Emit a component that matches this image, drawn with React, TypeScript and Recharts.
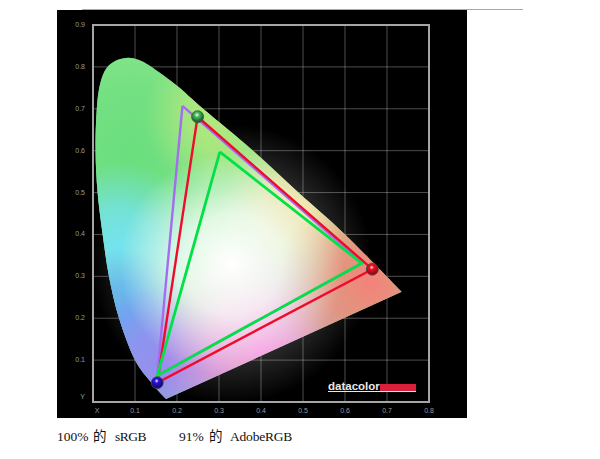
import { ScatterChart, Scatter, XAxis, YAxis, CartesianGrid, ReferenceArea } from 'recharts';

// values (CIE x, y)
const xTicks = [0, 0.1, 0.2, 0.3, 0.4, 0.5, 0.6, 0.7, 0.8];
const yTicks = [0, 0.1, 0.2, 0.3, 0.4, 0.5, 0.6, 0.7, 0.8, 0.9];

const locus = [
  { x: 0.174, y: 0.007 },
  { x: 0.14, y: 0.045 },
  { x: 0.1, y: 0.1 },
  { x: 0.062, y: 0.2 },
  { x: 0.038, y: 0.3 },
  { x: 0.023, y: 0.4 },
  { x: 0.011, y: 0.5 },
  { x: 0.006, y: 0.6 },
  { x: 0.009, y: 0.7 },
  { x: 0.017, y: 0.76 },
  { x: 0.032, y: 0.797 },
  { x: 0.056, y: 0.816 },
  { x: 0.084, y: 0.822 },
  { x: 0.108, y: 0.817 },
  { x: 0.136, y: 0.802 },
  { x: 0.2, y: 0.755 },
  { x: 0.262, y: 0.7 },
  { x: 0.381, y: 0.6 },
  { x: 0.489, y: 0.5 },
  { x: 0.6, y: 0.4 },
  { x: 0.735, y: 0.263 },
];

const purpleTriangle = [
  { x: 0.213, y: 0.707 },
  { x: 0.642, y: 0.332 },
  { x: 0.153, y: 0.063 },
  { x: 0.213, y: 0.707 },
];
const redTriangle = [
  { x: 0.249, y: 0.681 },
  { x: 0.665, y: 0.317 },
  { x: 0.153, y: 0.046 },
  { x: 0.249, y: 0.681 },
];
const greenTriangle = [
  { x: 0.302, y: 0.597 },
  { x: 0.64, y: 0.331 },
  { x: 0.153, y: 0.063 },
  { x: 0.302, y: 0.597 },
];

const greenPoint = [{ x: 0.249, y: 0.681 }];
const redPoint = [{ x: 0.665, y: 0.317 }];
const bluePoint = [{ x: 0.153, y: 0.046 }];
const whitePoint = [{ x: 0.33, y: 0.33 }];

// colour washes that fake the chromaticity fill
const washes = [
  { at: [0.09, 0.6], r: 130, color: '#6ade7e' },
  { at: [0.3, 0.68], r: 75, color: '#b4e87e' },
  { at: [0.5, 0.47], r: 80, color: '#f0dfa0' },
  { at: [0.06, 0.37], r: 85, color: '#74e2f0' },
  { at: [0.07, 0.2], r: 70, color: '#64acf2' },
  { at: [0.17, 0.08], r: 85, color: '#9688f5' },
  { at: [0.4, 0.13], r: 105, color: '#f590de' },
  { at: [0.66, 0.28], r: 95, color: '#f4827a' },
  { at: [0.33, 0.33], r: 112, color: '#ffffff' },
];

const none = () => null;

const LocusShape = ({ points }: any) => {
  let d = `M${points[0].x},${points[0].y}`;
  for (let i = 0; i < points.length - 1; i++) {
    const p0 = points[Math.max(i - 1, 0)];
    const p1 = points[i];
    const p2 = points[i + 1];
    const p3 = points[Math.min(i + 2, points.length - 1)];
    d += `C${p1.x + (p2.x - p0.x) / 6},${p1.y + (p2.y - p0.y) / 6} ${p2.x - (p3.x - p1.x) / 6},${p2.y - (p3.y - p1.y) / 6} ${p2.x},${p2.y}`;
  }
  d += 'Z';
  return (
    <g>
      <clipPath id="locusClip">
        <path d={d} />
      </clipPath>
      <path d={d} fill="#8ee68e" />
    </g>
  );
};

const Wash = ({ cx, cy, r, color, id }: any) => (
  <g clipPath="url(#locusClip)">
    <radialGradient id={id}>
      <stop offset="0%" stopColor={color} stopOpacity={1} />
      <stop offset="45%" stopColor={color} stopOpacity={0.75} />
      <stop offset="100%" stopColor={color} stopOpacity={0} />
    </radialGradient>
    <circle cx={cx} cy={cy} r={r} fill={`url(#${id})`} />
  </g>
);

const Glow = ({ cx, cy }: any) => (
  <g>
    <radialGradient id="glow">
      <stop offset="0%" stopColor="#fff" stopOpacity={0.7} />
      <stop offset="60%" stopColor="#fff" stopOpacity={0.2} />
      <stop offset="100%" stopColor="#fff" stopOpacity={0} />
    </radialGradient>
    <circle cx={cx} cy={cy} r={140} fill="url(#glow)" />
  </g>
);

const Ball = ({ cx, cy, color, dark, id }: any) => (
  <g>
    <radialGradient id={id} cx="45%" cy="35%">
      <stop offset="0%" stopColor="#fff" stopOpacity={0.9} />
      <stop offset="35%" stopColor={color} />
      <stop offset="100%" stopColor={dark} />
    </radialGradient>
    <circle cx={cx} cy={cy} r={6} fill={`url(#${id})`} stroke="#4a4a4a" strokeWidth={0.8} />
  </g>
);

const XTick = ({ x, y, payload }: any) => (
  <text x={payload.value === 0 ? x + 4 : x} y={y + 3} fontSize={7} fill="#9a9a9a" textAnchor="middle" fontFamily="Liberation Sans">
    {payload.value === 0 ? 'X' : payload.value.toFixed(1)}
  </text>
);

const YTick = ({ x, y, payload }: any) => (
  <text x={x} y={payload.value === 0 ? y - 3 : y + 2} fontSize={7} fill="#9a9a9a" textAnchor="end" fontFamily="Liberation Sans">
    {payload.value === 0 ? 'Y' : payload.value.toFixed(1)}
  </text>
);

const captionParts = [
  { text: '100%', left: 57, spacing: 0 },
  { text: '的', left: 93, spacing: 0 },
  { text: 'sRGB', left: 115, spacing: -0.5 },
  { text: '91%', left: 179, spacing: 0 },
  { text: '的', left: 209, spacing: 0 },
  { text: 'AdobeRGB', left: 230, spacing: -0.2 },
];

export default function App() {
  return (
    <div style={{ position: 'absolute', left: 0, top: 0, width: 600, height: 459, background: '#fff', overflow: 'hidden' }}>
      <div style={{ position: 'absolute', left: 82, top: 9, width: 441, height: 1, background: '#a8a8a8' }} />
      <div style={{ position: 'absolute', left: 57, top: 10, width: 410, height: 408, background: '#000' }} />
      <div style={{ position: 'absolute', left: 0, top: 0 }}>
        <ScatterChart width={600} height={459} margin={{ top: 25, right: 171, bottom: 37, left: 73 }}>
          <XAxis
            type="number"
            dataKey="x"
            domain={[0, 0.8]}
            ticks={xTicks}
            interval={0}
            height={20}
            axisLine={false}
            tickLine={false}
            tick={<XTick />}
            allowDataOverflow
          />
          <YAxis
            type="number"
            dataKey="y"
            domain={[0, 0.9]}
            ticks={yTicks}
            interval={0}
            width={20}
            axisLine={false}
            tickLine={false}
            tick={<YTick />}
            allowDataOverflow
          />
          <Scatter data={whitePoint} shape={<Glow />} isAnimationActive={false} />
          <Scatter data={locus} line={<LocusShape />} shape={none} isAnimationActive={false} />
          {washes.map((w, i) => (
            <Scatter
              key={i}
              data={[{ x: w.at[0], y: w.at[1] }]}
              shape={<Wash r={w.r} color={w.color} id={`wash${i}`} />}
              isAnimationActive={false}
            />
          ))}
          <CartesianGrid
            horizontalValues={yTicks}
            verticalValues={xTicks}
            stroke="#ffffff"
            strokeOpacity={0.3}
            strokeWidth={1}
          />
          <ReferenceArea x1={0} x2={0.8} y1={0} y2={0.9} fill="none" stroke="#a6a6a6" strokeWidth={2} />
          <Scatter data={purpleTriangle} line={{ stroke: '#a66cf0', strokeWidth: 2.4 }} shape={none} isAnimationActive={false} />
          <Scatter data={redTriangle} line={{ stroke: '#f00a2c', strokeWidth: 2.4 }} shape={none} isAnimationActive={false} />
          <Scatter data={greenTriangle} line={{ stroke: '#04e048', strokeWidth: 2.8 }} shape={none} isAnimationActive={false} />
          <Scatter data={greenPoint} shape={<Ball color="#4fc060" dark="#1c6a30" id="ballG" />} isAnimationActive={false} />
          <Scatter data={redPoint} shape={<Ball color="#f01020" dark="#a00818" id="ballR" />} isAnimationActive={false} />
          <Scatter data={bluePoint} shape={<Ball color="#2a10e0" dark="#180a80" id="ballB" />} isAnimationActive={false} />
        </ScatterChart>
      </div>
      <div style={{ position: 'absolute', left: 328, top: 379, fontFamily: 'Liberation Sans', fontWeight: 700, fontSize: 11.5, color: '#e8e8e8', lineHeight: '14px', whiteSpace: 'nowrap' }}>
        datacolor
      </div>
      <div style={{ position: 'absolute', left: 380, top: 384, width: 36, height: 7, background: '#d8203a' }} />
      <div style={{ position: 'absolute', left: 328, top: 391, width: 88, height: 1, background: '#e8e8e8' }} />
      {captionParts.map((p, i) => (
        <span
          key={i}
          style={{ position: 'absolute', left: p.left, top: 429, fontFamily: "'Liberation Serif', 'Noto Sans CJK SC'", fontSize: 13.5, lineHeight: '16px', color: '#111', letterSpacing: p.spacing, whiteSpace: 'nowrap' }}
        >
          {p.text}
        </span>
      ))}
    </div>
  );
}
